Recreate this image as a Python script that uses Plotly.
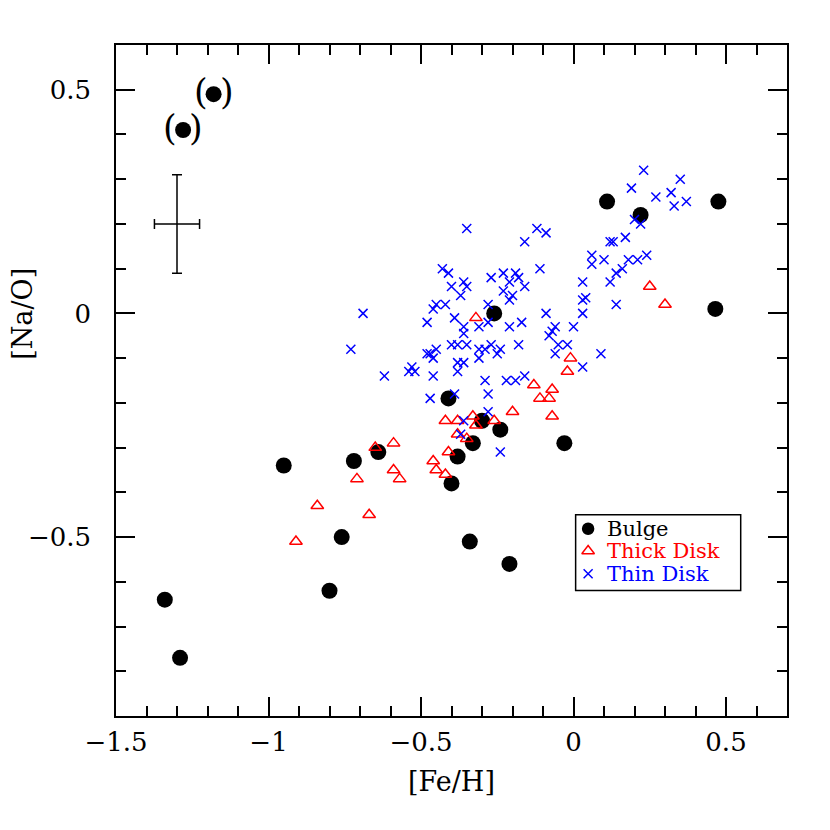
import plotly.graph_objects as go

# Bulge stars (filled black circles)
bulge_feh = [0.11, 0.22, 0.475, 0.465, -0.26, -0.41, -0.30, -0.24, -0.33, -0.03,
             -0.38, -0.64, -0.72, -0.95, -0.40, -0.76, -0.34, -0.21, -0.80, -1.34, -1.29]
bulge_nao = [0.25, 0.22, 0.25, 0.01, 0.00, -0.19, -0.24, -0.26, -0.29, -0.29,
             -0.32, -0.31, -0.33, -0.34, -0.38, -0.50, -0.51, -0.56, -0.62, -0.64, -0.77]

# uncertain bulge stars, drawn in parentheses
paren_feh = [-1.18, -1.28]
paren_nao = [0.49, 0.41]

# Thick disk (open red triangles)
thick_feh = [-0.32, -0.01, -0.02, -0.13, -0.07, -0.11, -0.08, -0.20, -0.07, -0.42,
             -0.38, -0.33, -0.32, -0.26, -0.38, -0.35, -0.41, -0.46, -0.45, -0.42,
             -0.59, -0.65, -0.59, -0.57, -0.71, -0.84, -0.67, -0.91, 0.25, 0.30]
thick_nao = [-0.01, -0.10, -0.13, -0.16, -0.17, -0.19, -0.19, -0.22, -0.23, -0.24,
             -0.24, -0.23, -0.25, -0.24, -0.27, -0.28, -0.31, -0.33, -0.35, -0.36,
             -0.29, -0.30, -0.35, -0.37, -0.37, -0.43, -0.45, -0.51, 0.06, 0.02]

# Thin disk (blue crosses)
thin_feh = [0.23, 0.35, 0.19, 0.32, 0.27, 0.37, 0.33, 0.20, 0.22, 0.17,
            0.12, 0.13, 0.06, 0.10, 0.06, 0.18, 0.21, 0.24, 0.16, 0.14,
            0.12, 0.14, 0.09, 0.03, 0.03, 0.04, 0.03, 0.03,
            -0.12, -0.09, -0.16, -0.11, -0.35, -0.43, -0.41, -0.27, -0.23, -0.19,
            -0.18, -0.36, -0.35, -0.40, -0.37, -0.21, -0.16, -0.23, -0.20, -0.21,
            -0.69, -0.46, -0.45, -0.42, -0.28, -0.48, -0.39, -0.36, -0.36, -0.31,
            -0.28, -0.21, -0.17, -0.09, -0.06, -0.07, -0.08, 0.00, -0.73, -0.48,
            -0.47, -0.45, -0.46, -0.40, -0.38, -0.35, -0.31, -0.27, -0.29, -0.24,
            -0.25, -0.31, -0.18, -0.38, -0.36, -0.38, -0.53, -0.52, -0.54, -0.62,
            -0.46, -0.05, -0.02, -0.06, -0.29, -0.22, -0.19, -0.16, -0.28, -0.47,
            -0.39, -0.28, -0.36, -0.37, -0.24]
thin_nao = [0.32, 0.30, 0.28, 0.27, 0.26, 0.25, 0.24, 0.21, 0.20, 0.17,
            0.16, 0.16, 0.13, 0.12, 0.11, 0.12, 0.12, 0.13, 0.10, 0.09,
            0.07, 0.02, -0.09, 0.07, 0.03, 0.035, 0.00, -0.12,
            0.19, 0.18, 0.16, 0.10, 0.19, 0.10, 0.09, 0.08, 0.09, 0.09,
            0.08, 0.07, 0.06, 0.06, 0.04, 0.07, 0.06, 0.05, 0.04, 0.03,
            0.00, 0.01, 0.02, 0.02, 0.02, -0.02, -0.01, -0.03, -0.045, -0.03,
            -0.02, -0.03, -0.02, 0.00, -0.03, -0.04, -0.05, -0.03, -0.08, -0.09,
            -0.09, -0.08, -0.10, -0.07, -0.07, -0.07, -0.08, -0.07, -0.08, -0.08,
            -0.09, -0.10, -0.07, -0.11, -0.11, -0.13, -0.12, -0.13, -0.13, -0.14,
            -0.14, -0.07, -0.07, -0.09, -0.15, -0.15, -0.15, -0.14, -0.18, -0.19,
            -0.18, -0.22, -0.24, -0.27, -0.31]

# typical error bar
err_feh, err_nao = [-1.30], [0.20]
err_dx, err_dy = [0.074], [0.11]

# legend entries (drawn by hand so the box matches the original)
legend_names = ["Bulge", "Thick Disk", "Thin Disk"]
legend_colors = ["black", "#ff0000", "#0000ff"]
legend_symbols = ["circle", "triangle-up-open", "x-thin-open"]
legend_sizes = [11, 11, 9]

FONT = "DejaVu Serif"

fig = go.Figure()

fig.add_trace(go.Scatter(
    x=err_feh, y=err_nao, mode="markers",
    marker=dict(size=1, color="rgba(0,0,0,0)"),
    error_x=dict(type="data", array=err_dx, color="black", thickness=1.5, width=5),
    error_y=dict(type="data", array=err_dy, color="black", thickness=1.5, width=5),
    hoverinfo="skip",
))

fig.add_trace(go.Scatter(
    x=bulge_feh, y=bulge_nao, mode="markers", name="Bulge",
    marker=dict(symbol="circle", size=16, color="black"),
))
fig.add_trace(go.Scatter(
    x=thick_feh, y=thick_nao, mode="markers", name="Thick Disk",
    marker=dict(symbol="triangle-up-open", size=11, color="#ff0000",
                line=dict(width=1.5, color="#ff0000")),
))
fig.add_trace(go.Scatter(
    x=thin_feh, y=thin_nao, mode="markers", name="Thin Disk",
    marker=dict(symbol="x-thin-open", size=9, color="#0000ff",
                line=dict(width=1.5, color="#0000ff")),
))
fig.add_trace(go.Scatter(
    x=paren_feh, y=paren_nao, mode="markers",
    marker=dict(symbol="circle", size=16, color="black"),
))

for px, py in zip(paren_feh, paren_nao):
    for txt, sh in (("(", -13), (")", 13)):
        fig.add_annotation(x=px, y=py, text=txt, showarrow=False, xshift=sh, yshift=2,
                           font=dict(family=FONT, size=35, color="black"))

# legend: box, symbols on an overlay axis spanning [0, 1], coloured labels
leg_x0, leg_x1, leg_y0, leg_y1 = 0.685, 0.931, 0.187, 0.300
leg_rows = [0.279, 0.246, 0.212]
fig.add_shape(type="rect", xref="paper", yref="paper",
              x0=leg_x0, x1=leg_x1, y0=leg_y0, y1=leg_y1,
              line=dict(color="black", width=1.5), fillcolor="white", layer="below")
for name, col, sym, sz, ry in zip(legend_names, legend_colors, legend_symbols,
                                  legend_sizes, leg_rows):
    fig.add_trace(go.Scatter(
        x=[0.7036], y=[ry], xaxis="x2", yaxis="y2", mode="markers",
        marker=dict(symbol=sym, size=sz, color=col, line=dict(width=1.5, color=col)),
        hoverinfo="skip",
    ))
    fig.add_annotation(xref="paper", yref="paper", x=0.7285, y=ry, text=name,
                       xanchor="left", yanchor="middle", showarrow=False,
                       font=dict(family=FONT, size=21, color=col))

axis_common = dict(
    showline=True, linecolor="black", linewidth=1.5, mirror="ticks",
    ticks="inside", ticklen=19, tickwidth=1.5, tickcolor="black",
    showgrid=False, zeroline=False, automargin=False,
    tickfont=dict(family=FONT, size=26, color="black"),
    minor=dict(dtick=0.1, ticks="inside", ticklen=10, tickwidth=1.5,
               tickcolor="black", showgrid=False),
)

fig.update_xaxes(range=[-1.5, 0.7], tick0=0, dtick=0.5, ticklabelstandoff=2,
                 **axis_common)
fig.update_yaxes(range=[-0.9, 0.6], tick0=0, dtick=0.5, ticklabelstandoff=18,
                 **axis_common)

fig.update_layout(
    xaxis2=dict(overlaying="x", range=[0, 1], visible=False),
    yaxis2=dict(overlaying="y", range=[0, 1], visible=False),
)

# axis titles
fig.add_annotation(xref="paper", yref="paper", x=0.5, y=-0.097, text="[Fe/H]",
                   showarrow=False, xanchor="center", yanchor="middle",
                   font=dict(family=FONT, size=27, color="black"))
fig.add_annotation(xref="paper", yref="paper", x=-0.1395, y=0.60, text="[Na/O]",
                   showarrow=False, xanchor="center", yanchor="middle", textangle=-90,
                   font=dict(family=FONT, size=27, color="black"))

# the page body adds an 8px margin, so the figure margins are reduced by it
fig.update_layout(
    width=830, height=830,
    margin=dict(l=108, r=51, t=37, b=122),
    plot_bgcolor="white", paper_bgcolor="white",
    font=dict(family=FONT, size=20, color="black"),
    showlegend=False,
)

fig.write_html("out.html")
